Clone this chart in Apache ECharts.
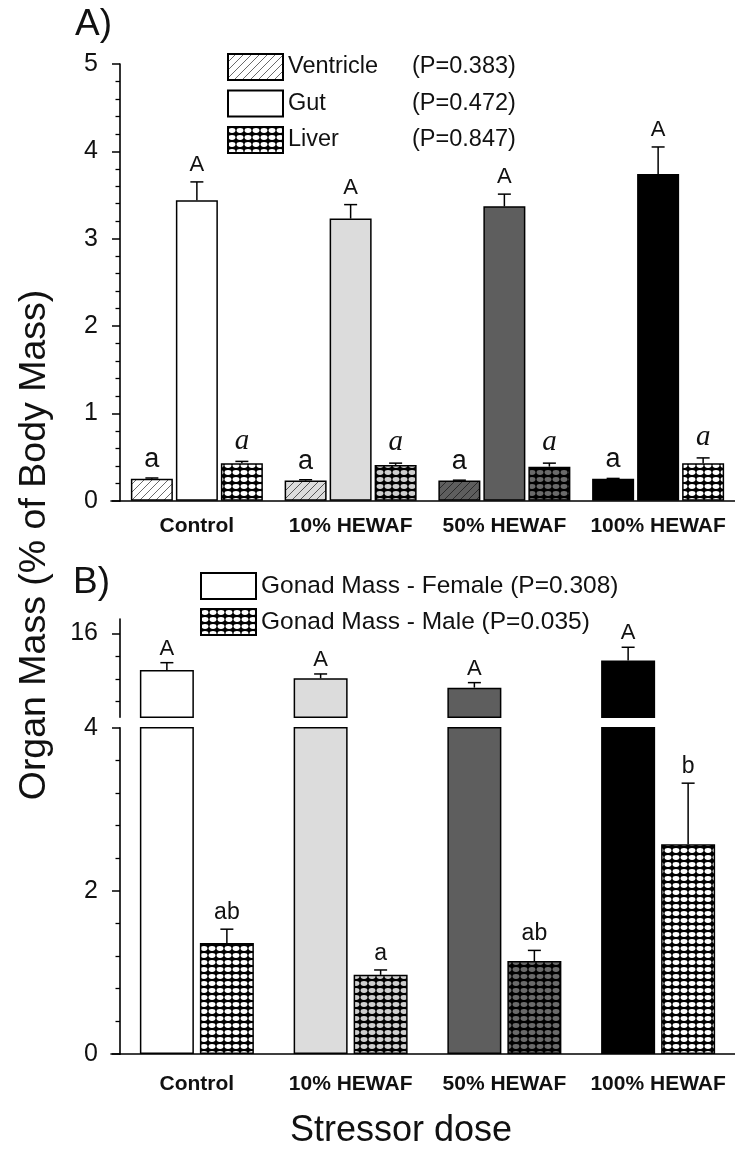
<!DOCTYPE html>
<html>
<head>
<meta charset="utf-8">
<script src="https://cdn.jsdelivr.net/npm/echarts@6/dist/echarts.min.js"></script>
<style>
html,body{margin:0;padding:0;background:#fff;}
#chart{width:735px;height:1157px;}
</style>
</head>
<body>
<div id="chart"></div>
<script>
// ---------- data ----------
const categories = ['Control', '10% HEWAF', '50% HEWAF', '100% HEWAF'];

const organNames = ['Ventricle', 'Gut', 'Liver'];
const organP = ['(P=0.383)', '(P=0.472)', '(P=0.847)'];
const ventricleMean = [0.25, 0.23, 0.23, 0.25];
const ventricleSE   = [0.01, 0.01, 0.005, 0.005];
const gutMean       = [3.44, 3.23, 3.37, 3.74];
const gutSE         = [0.21, 0.16, 0.14, 0.31];
const liverMean     = [0.43, 0.41, 0.39, 0.43];
const liverSE       = [0.02, 0.02, 0.04, 0.06];
const ventricleLetters = ['a', 'a', 'a', 'a'];
const gutLetters       = ['A', 'A', 'A', 'A'];
const liverLetters     = ['a', 'a', 'a', 'a'];

const gonadNames = ['Gonad Mass - Female', 'Gonad Mass - Male'];
const gonadP = ['(P=0.308)', '(P=0.035)'];
const femaleMean = [12.78, 12.05, 11.23, 13.6];
const femaleSE   = [0.64, 0.38, 0.44, 1.17];
const maleMean   = [1.36, 0.97, 1.14, 2.57];
const maleSE     = [0.17, 0.06, 0.13, 0.75];
const femaleLetters = ['A', 'A', 'A', 'A'];
const maleLetters   = ['ab', 'a', 'ab', 'b'];

const upperMajorTicks = [16];
const upperMinorTicks = [10, 12, 14];

// ---------- styles ----------
const FONT = 'Liberation Sans, Arial, sans-serif';
const doseFill = ['#ffffff', '#dcdcdc', '#5e5e5e', '#000000'];
const hatchLine = ['#6a6a6a', '#555555', '#2a2a2a', '#000000'];
const dotFill = ['#ffffff', '#cfcfcf', '#6a6a6a', '#ffffff'];

function hatch(bg, line) {
  const c = document.createElement('canvas'); c.width = 8; c.height = 8;
  const g = c.getContext('2d');
  g.fillStyle = bg; g.fillRect(0, 0, 8, 8);
  g.strokeStyle = line; g.lineWidth = 1;
  g.beginPath();
  g.moveTo(0, 8); g.lineTo(8, 0);
  g.moveTo(-1, 1); g.lineTo(1, -1);
  g.moveTo(7, 9); g.lineTo(9, 7);
  g.stroke();
  return { image: c, repeat: 'repeat' };
}
function dots(dot) {
  const c = document.createElement('canvas'); c.width = 8; c.height = 7;
  const g = c.getContext('2d');
  g.fillStyle = '#000'; g.fillRect(0, 0, 8, 7);
  g.fillStyle = dot;
  g.beginPath(); g.ellipse(4, 3.5, 3.4, 2.4, 0, 0, Math.PI * 2); g.fill();
  return { image: c, repeat: 'repeat' };
}
const ventricleFill = doseFill.map((b, i) => hatch(b, hatchLine[i]));
const liverFill = dotFill.map(d => dots(d));
const gutFill = doseFill;

const BW_A = 42, GAP_A = 3;
const BW_B = 54, GAP_B = 6;
const border = { borderColor: '#000', borderWidth: 1.5 };

function barData(vals, fills) {
  return vals.map((v, i) => ({ value: v, itemStyle: { color: fills[i] } }));
}
function errData(mean, se) {
  return mean.map((m, i) => [i, m, se[i]]);
}
function errRender(offset, letters, font, gap) {
  return function (params, api) {
    const i = api.value(0), m = api.value(1), s = api.value(2);
    const p0 = api.coord([i, m]);
    const p1 = api.coord([i, m + s]);
    const x = p0[0] + offset;
    return {
      type: 'group',
      children: [
        { type: 'line', shape: { x1: x, y1: p0[1], x2: x, y2: p1[1] }, style: { stroke: '#000', lineWidth: 1.5 } },
        { type: 'line', shape: { x1: x - 6.5, y1: p1[1], x2: x + 6.5, y2: p1[1] }, style: { stroke: '#000', lineWidth: 1.5 } },
        { type: 'text', x: x, y: p1[1] - gap, style: { text: letters[params.dataIndex], font: font, fill: '#111', align: 'center', verticalAlign: 'bottom' } }
      ]
    };
  };
}

const axisLineStyle = { lineStyle: { color: '#000', width: 1.6 } };
const catLabel = (margin) => ({ interval: 0, fontFamily: FONT, fontWeight: 'bold', fontSize: 21, color: '#111', margin: margin });
const valLabel = { fontFamily: FONT, fontSize: 25, color: '#111', margin: 22 };
const catTick = { interval: 0, alignWithLabel: true, length: 7, lineStyle: { color: '#000', width: 1.5 } };

const GL = 120, GW = 624;

const option = {
  animation: false,
  backgroundColor: '#fff',
  grid: [
    { left: GL, width: GW, top: 64, height: 436.7 },          // A
    { left: GL, width: GW, top: 619, height: 98.3 },          // B upper
    { left: GL, width: GW, top: 727.7, height: 326.3 },       // B lower
    { left: 111, width: 9, top: 490.7, height: 10 },          // A axis stub
    { left: 111, width: 9, top: 1044, height: 10 }            // B axis stub
  ],
  xAxis: [
    { gridIndex: 0, type: 'category', data: categories, axisLine: axisLineStyle, axisTick: catTick, axisLabel: catLabel(15) },
    { gridIndex: 1, type: 'category', data: categories, show: false },
    { gridIndex: 2, type: 'category', data: categories, axisLine: axisLineStyle, axisTick: catTick, axisLabel: catLabel(20) },
    { gridIndex: 3, type: 'value', min: 0, max: 1, axisLine: axisLineStyle, axisTick: { show: false }, axisLabel: { show: false }, splitLine: { show: false } },
    { gridIndex: 4, type: 'value', min: 0, max: 1, axisLine: axisLineStyle, axisTick: { show: false }, axisLabel: { show: false }, splitLine: { show: false } }
  ],
  yAxis: [
    { gridIndex: 0, type: 'value', min: 0, max: 5, interval: 1, position: 'left',
      axisLine: { show: true, ...axisLineStyle },
      axisTick: { show: true, length: 8, lineStyle: { color: '#000', width: 1.5 } },
      minorTick: { show: true, splitNumber: 5, length: 4.5, lineStyle: { color: '#000', width: 1.3 } },
      splitLine: { show: false }, minorSplitLine: { show: false }, axisLabel: valLabel },
    { gridIndex: 1, type: 'value', min: 8.63, max: 17.25, position: 'left',
      axisLine: { show: true, ...axisLineStyle },
      axisTick: { show: true, length: 8, customValues: upperMajorTicks, lineStyle: { color: '#000', width: 1.5 } },
      splitLine: { show: false }, axisLabel: { ...valLabel, customValues: upperMajorTicks } },
    { gridIndex: 1, type: 'value', min: 8.63, max: 17.25, position: 'left',
      axisLine: { show: false },
      axisTick: { show: true, length: 4.5, customValues: upperMinorTicks, lineStyle: { color: '#000', width: 1.3 } },
      splitLine: { show: false }, axisLabel: { show: false } },
    { gridIndex: 2, type: 'value', min: 0, max: 4, interval: 2, position: 'left',
      axisLine: { show: true, ...axisLineStyle },
      axisTick: { show: true, length: 8, lineStyle: { color: '#000', width: 1.5 } },
      minorTick: { show: true, splitNumber: 5, length: 4.5, lineStyle: { color: '#000', width: 1.3 } },
      splitLine: { show: false }, minorSplitLine: { show: false }, axisLabel: valLabel },
    { gridIndex: 3, type: 'value', min: 0, max: 1, show: false },
    { gridIndex: 4, type: 'value', min: 0, max: 1, show: false }
  ],
  legend: [
    { orient: 'vertical', left: 227, top: 53, padding: 0, itemWidth: 55, itemHeight: 26, itemGap: 8.5,
      icon: 'rect', selectedMode: false, data: organNames,
      formatter: name => '{n|' + name + '}{p|' + organP[organNames.indexOf(name)] + '}',
      textStyle: { fontFamily: FONT, fontSize: 23.5, color: '#111',
        rich: { n: { fontFamily: FONT, fontSize: 23.5, width: 124, color: '#111' }, p: { fontFamily: FONT, fontSize: 23.5, color: '#111' } } } },
    { orient: 'vertical', left: 200, top: 572, padding: 0, itemWidth: 55, itemHeight: 26, itemGap: 8,
      icon: 'rect', selectedMode: false, data: gonadNames,
      formatter: name => name + ' ' + gonadP[gonadNames.indexOf(name)],
      textStyle: { fontFamily: FONT, fontSize: 24.5, color: '#111' } }
  ],
  graphic: [
    { type: 'text', left: 75, top: 6, style: { text: 'A)', font: '37px ' + FONT, fill: '#111' } },
    { type: 'text', left: 73, top: 564, style: { text: 'B)', font: '37px ' + FONT, fill: '#111' } },
    { type: 'text', x: 35, y: 545, rotation: Math.PI / 2,
      style: { text: 'Organ Mass (% of Body Mass)', font: '37.5px ' + FONT, fill: '#111', align: 'center', verticalAlign: 'middle' } },
    { type: 'text', x: 401, y: 1131,
      style: { text: 'Stressor dose', font: '36px ' + FONT, fill: '#111', align: 'center', verticalAlign: 'middle' } }
  ],
  series: [
    { name: organNames[0], type: 'bar', xAxisIndex: 0, yAxisIndex: 0, barWidth: BW_A, barGap: (GAP_A / BW_A * 100) + '%',
      itemStyle: { color: ventricleFill[0], ...border }, data: barData(ventricleMean, ventricleFill) },
    { name: organNames[1], type: 'bar', xAxisIndex: 0, yAxisIndex: 0, barWidth: BW_A, barGap: (GAP_A / BW_A * 100) + '%',
      itemStyle: { color: gutFill[0], ...border }, data: barData(gutMean, gutFill) },
    { name: organNames[2], type: 'bar', xAxisIndex: 0, yAxisIndex: 0, barWidth: BW_A, barGap: (GAP_A / BW_A * 100) + '%',
      itemStyle: { color: liverFill[0], ...border }, data: barData(liverMean, liverFill) },
    { type: 'custom', xAxisIndex: 0, yAxisIndex: 0, z: 5, data: errData(ventricleMean, ventricleSE),
      renderItem: errRender(-(BW_A + GAP_A), ventricleLetters, '27px ' + FONT, 5) },
    { type: 'custom', xAxisIndex: 0, yAxisIndex: 0, z: 5, data: errData(gutMean, gutSE),
      renderItem: errRender(0, gutLetters, '22px ' + FONT, 6) },
    { type: 'custom', xAxisIndex: 0, yAxisIndex: 0, z: 5, data: errData(liverMean, liverSE),
      renderItem: errRender(BW_A + GAP_A, liverLetters, 'italic 29px Liberation Serif, serif', 6) },

    { name: gonadNames[0], type: 'bar', xAxisIndex: 1, yAxisIndex: 1, clip: true, barWidth: BW_B, barGap: (GAP_B / BW_B * 100) + '%',
      itemStyle: { color: doseFill[0], ...border }, data: barData(femaleMean, doseFill) },
    { name: 'spacer', type: 'bar', xAxisIndex: 1, yAxisIndex: 1, barWidth: BW_B, barGap: (GAP_B / BW_B * 100) + '%',
      data: categories.map(() => null) },
    { name: gonadNames[0], type: 'bar', xAxisIndex: 2, yAxisIndex: 3, clip: true, barWidth: BW_B, barGap: (GAP_B / BW_B * 100) + '%',
      itemStyle: { color: doseFill[0], ...border }, data: barData(femaleMean, doseFill) },
    { name: gonadNames[1], type: 'bar', xAxisIndex: 2, yAxisIndex: 3, clip: true, barWidth: BW_B, barGap: (GAP_B / BW_B * 100) + '%',
      itemStyle: { color: liverFill[0], ...border }, data: barData(maleMean, liverFill) },
    { type: 'custom', xAxisIndex: 1, yAxisIndex: 1, z: 5, data: errData(femaleMean, femaleSE),
      renderItem: errRender(-(BW_B + GAP_B) / 2, femaleLetters, '22px ' + FONT, 3) },
    { type: 'custom', xAxisIndex: 2, yAxisIndex: 3, z: 5, data: errData(maleMean, maleSE),
      renderItem: errRender((BW_B + GAP_B) / 2, maleLetters, '23px ' + FONT, 5) }
  ]
};

const chart = echarts.init(document.getElementById('chart'), null, { renderer: 'canvas' });
chart.setOption(option);
</script>
</body>
</html>
